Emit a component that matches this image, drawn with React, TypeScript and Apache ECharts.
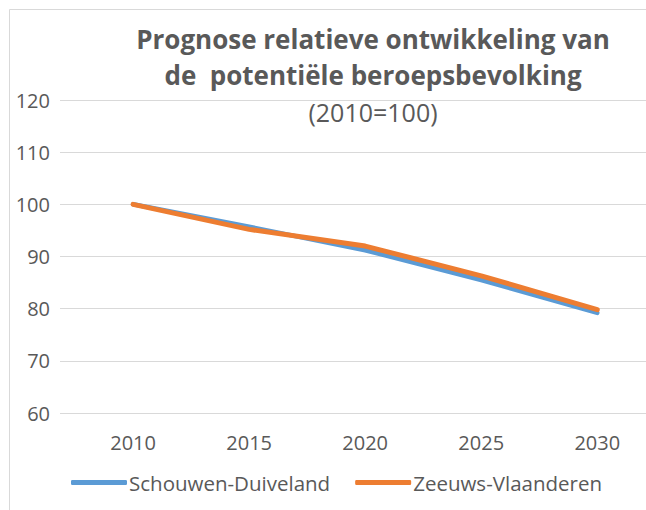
import React, { useEffect, useRef } from "react";
import * as echarts from "echarts";

const years = [2010, 2015, 2020, 2025, 2030];
const schouwen = [100, 95.7, 91.2, 85.5, 79.2];
const zeeuws = [100, 95.2, 92.0, 86.3, 79.8];
const seriesNames = ["Schouwen-Duiveland", "Zeeuws-Vlaanderen"];
const titleLines = ["Prognose relatieve ontwikkeling van", "de  potentiële beroepsbevolking", "(2010=100)"];

const FONT = "Open Sans";
const GRAY = "#595959";

export default function App() {
  const ref = useRef<HTMLDivElement>(null);
  useEffect(() => {
    if (!ref.current) return;
    const chart = echarts.init(ref.current, null, { renderer: "svg" });
    chart.setOption({
      animation: false,
      backgroundColor: "#ffffff",
      title: {
        text: `{b|${titleLines[0]}}\n{b|${titleLines[1]}}\n{n|${titleLines[2]}}`,
        left: 368,
        top: 16,
        textAlign: "center",
        textStyle: {
          rich: {
            b: { fontFamily: FONT, fontWeight: "bold", fontSize: 26, color: GRAY, lineHeight: 36 },
            n: { fontFamily: FONT, fontWeight: "normal", fontSize: 25, color: GRAY, lineHeight: 38 },
          },
        },
      },
      graphic: [
        { type: "line", shape: { x1: 9.5, y1: 9.5, x2: 646, y2: 9.5 }, style: { stroke: "#d9d9d9", lineWidth: 1 } },
        { type: "line", shape: { x1: 9.5, y1: 9.5, x2: 9.5, y2: 510 }, style: { stroke: "#d9d9d9", lineWidth: 1 } },
      ],
      legend: {
        left: 66,
        top: 467,
        itemWidth: 56,
        itemHeight: 5,
        itemGap: 25,
        icon: "roundRect",
        textStyle: { fontFamily: FONT, fontSize: 20.5, color: GRAY, padding: [0, 0, 0, -3] },
        data: seriesNames,
      },
      grid: { left: 60, right: 0, top: 100, bottom: 97, containLabel: false },
      xAxis: {
        type: "value",
        min: 2006.85,
        max: 2032.1,
        axisLine: { show: false },
        axisTick: { show: false },
        splitLine: { show: false },
        axisLabel: {
          customValues: years,
          formatter: (v: number) => String(v),
          fontFamily: FONT,
          fontSize: 20,
          color: GRAY,
          margin: 19,
        },
      },
      yAxis: {
        type: "value",
        min: 60,
        max: 120,
        interval: 10,
        axisLine: { show: false },
        axisTick: { show: false },
        splitLine: { lineStyle: { color: "#d9d9d9", width: 1 } },
        axisLabel: { fontFamily: FONT, fontSize: 20, color: GRAY, margin: 10 },
      },
      series: [
        {
          name: seriesNames[0],
          type: "line",
          data: years.map((y, i) => [y, schouwen[i]]),
          symbol: "none",
          itemStyle: { color: "#5B9BD5" },
          lineStyle: { color: "#5B9BD5", width: 4.5, cap: "round", join: "round" },
        },
        {
          name: seriesNames[1],
          type: "line",
          data: years.map((y, i) => [y, zeeuws[i]]),
          symbol: "none",
          itemStyle: { color: "#ED7D31" },
          lineStyle: { color: "#ED7D31", width: 5, cap: "round", join: "round" },
        },
      ],
    });
    return () => chart.dispose();
  }, []);
  return <div ref={ref} style={{ position: "fixed", left: 0, top: 0, width: 646, height: 510 }} />;
}
